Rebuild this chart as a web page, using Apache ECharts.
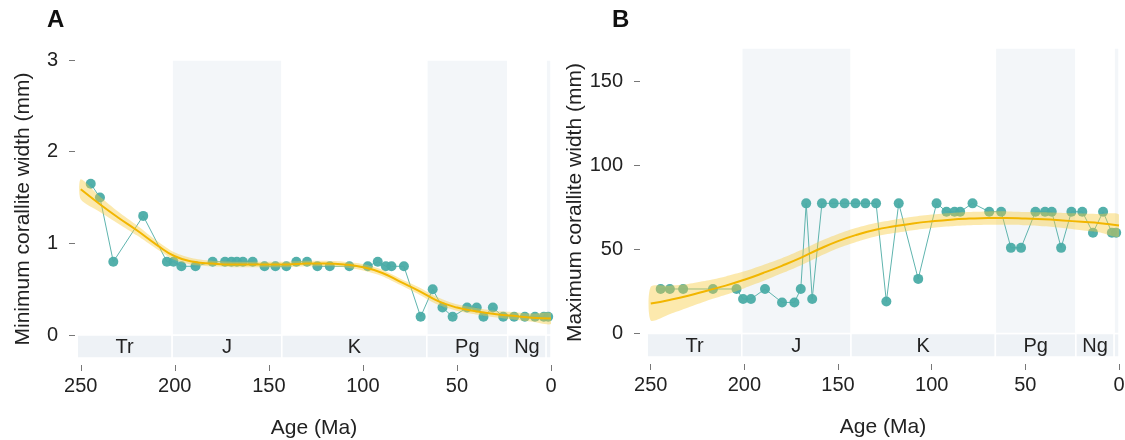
<!DOCTYPE html>
<html><head><meta charset="utf-8">
<script src="https://cdn.jsdelivr.net/npm/echarts@6/dist/echarts.min.js"></script>
<style>html,body{margin:0;padding:0;background:#fff}#c{width:1125px;height:440px}</style>
</head><body><div id="c"></div>
<script>
// ---- data ----
const ages = [244.7,239.8,232.7,216.8,204.2,200.7,196.5,189,179.9,173.3,169.9,167,163.8,158.6,152.3,146.5,140.7,135.4,129.7,124.2,117.6,107.2,97.4,92.1,87.8,84.8,78.2,69.3,62.9,57.7,52.3,44.6,39.5,35.9,30.9,25.4,19.6,13.9,8.5,3.8,1.5];
const minWidth = [1.65,1.5,0.8,1.3,0.8,0.8,0.75,0.75,0.8,0.8,0.8,0.8,0.8,0.8,0.75,0.75,0.75,0.8,0.8,0.75,0.75,0.75,0.75,0.8,0.75,0.75,0.75,0.2,0.5,0.3,0.2,0.3,0.3,0.2,0.3,0.2,0.2,0.2,0.2,0.2,0.2];
const maxWidth = [26.5,26.5,26.5,26.5,26.5,20.5,20.5,26.5,18.5,18.5,26.5,77.5,20.5,77.5,77.5,77.5,77.5,77.5,77.5,19,77.5,32.5,77.5,72.5,72.5,72.5,77.5,72.5,72.5,51,51,72.5,72.5,72.5,51,72.5,72.5,60,72.5,60,60];

const fitAges = [250,240,230,220,210,200,190,180,170,160,150,140,130,120,110,100,90,80,70,60,50,40,30,20,10,0];
const minFit = [1.59,1.43,1.28,1.14,0.99,0.86,0.80,0.78,0.77,0.77,0.77,0.77,0.78,0.78,0.77,0.74,0.68,0.58,0.48,0.37,0.30,0.26,0.23,0.21,0.19,0.18];
const minLo  = [1.48,1.345,1.215,1.085,0.945,0.82,0.765,0.75,0.74,0.74,0.74,0.74,0.75,0.75,0.74,0.705,0.645,0.545,0.44,0.33,0.265,0.225,0.195,0.17,0.145,0.12];
const minHi  = [1.70,1.515,1.345,1.195,1.035,0.90,0.835,0.81,0.80,0.80,0.80,0.80,0.81,0.81,0.80,0.775,0.715,0.615,0.52,0.41,0.335,0.295,0.265,0.25,0.235,0.24];
const maxFit = [17.8,20,22.5,25.5,28.5,32,36,40.3,45,50.3,55,58.8,61.8,63.8,65.5,66.8,67.8,68.4,68.7,68.7,68.4,68,67.3,66.5,65.7,64.3];
const maxLo  = [7.8,11.5,15.5,19.5,23,27,31.2,35.8,40.5,45.8,50.7,54.6,57.8,59.8,61.5,62.8,63.8,64.4,64.7,64.7,64.4,63.8,62.8,61.5,60.2,57.8];
const maxHi  = [27.8,28.5,29.5,31.5,34,37,40.8,44.8,49.5,54.8,59.3,63,65.8,67.8,69.5,70.8,71.8,72.4,72.7,72.7,72.4,72.2,71.8,71.5,71.2,70.8];

const periodNames = ['Tr','J','K','Pg','Ng',''];
const periodStart = [251.9,201.4,143.1,66,23.03,2.58];
const periodEnd   = [201.4,143.1,66,23.03,2.58,0];
const shadedIdx = [1,3,5];

const ageTicks = [0,50,100,150,200,250];
const minTicks = [0,1,2,3];
const maxTicks = [0,50,100,150];

// ---- styling ----
const FONT = 'Liberation Sans, Arial, Helvetica, sans-serif';
const TEAL = '#4aaca6';
const GOLD = '#f2b600';
const BAND = 'rgba(248,202,60,0.42)';
const SHADE = '#f3f6f9';
const STRIP = '#eef2f6';
const TICK = '#777';

function xAxisDef(gi){
  return {type:'value', gridIndex:gi, inverse:true, min:0, max:252, offset:7,
    name:'Age (Ma)', nameLocation:'middle', nameGap:53,
    nameTextStyle:{fontSize:21, color:'#222', fontFamily:FONT},
    axisLine:{show:true, onZero:false, lineStyle:{color:'rgba(0,0,0,0)'}}, splitLine:{show:false},
    axisTick:{show:true, length:6, customValues:ageTicks, lineStyle:{color:TICK, width:1}},
    axisLabel:{customValues:ageTicks, fontSize:20, color:'#222', margin:11, fontFamily:FONT}};
}
function yAxisDef(gi, mn, mx, ticks, name, off, gap){
  return {type:'value', gridIndex:gi, min:mn, max:mx, offset:off,
    name:name, nameLocation:'middle', nameGap:gap,
    nameTextStyle:{fontSize:21, color:'#222', fontFamily:FONT},
    axisLine:{show:true, onZero:false, lineStyle:{color:'rgba(0,0,0,0)'}}, splitLine:{show:false},
    axisTick:{show:true, length:6, customValues:ticks, lineStyle:{color:TICK, width:1}},
    axisLabel:{customValues:ticks, fontSize:20, color:'#222', margin:17, fontFamily:FONT}};
}
function periodSeries(gi, mn, mx){
  const strip = periodNames.map((n,i)=>[
    {name:n, xAxis:periodStart[i], yAxis:mn},
    {xAxis:periodEnd[i], yAxis:0}]);
  const bands = shadedIdx.map(i=>[
    {name:'', xAxis:periodStart[i], yAxis:0, itemStyle:{color:SHADE}, label:{show:false}},
    {xAxis:periodEnd[i], yAxis:mx}]);
  return {type:'line', xAxisIndex:gi, yAxisIndex:gi, data:[], z:0, silent:true,
    markArea:{silent:true,
      itemStyle:{color:STRIP, borderColor:'#ffffff', borderWidth:1.5},
      label:{show:true, position:'inside', fontSize:20, color:'#222', fontFamily:FONT, offset:[0,1]},
      data: strip.concat(bands)}};
}
function pointSeries(gi, vals){
  return {type:'line', xAxisIndex:gi, yAxisIndex:gi, z:2,
    data: ages.map((a,i)=>[a, vals[i]]),
    symbol:'circle', symbolSize:10, showSymbol:true,
    lineStyle:{color:'#5fb4ae', width:1},
    itemStyle:{color:TEAL, opacity:0.95}};
}
function bandSeries(gi, lo, hi){
  return {type:'custom', xAxisIndex:gi, yAxisIndex:gi, z:3, silent:true, clip:true,
    data:[[0,0]],
    renderItem:(params, api)=>{
      const pts=[];
      for(let i=0;i<fitAges.length;i++) pts.push(api.coord([fitAges[i], hi[i]]));
      for(let i=fitAges.length-1;i>=0;i--) pts.push(api.coord([fitAges[i], lo[i]]));
      return {type:'polygon', shape:{points:pts, smooth:0.25}, style:{fill:BAND, stroke:null}};
    }};
}
function fitSeries(gi, vals){
  return {type:'line', xAxisIndex:gi, yAxisIndex:gi, z:4, smooth:true, showSymbol:false,
    data: fitAges.map((a,i)=>[a, vals[i]]),
    lineStyle:{color:GOLD, width:2}};
}

const chart = echarts.init(document.getElementById('c'), null, {renderer:'canvas'});
chart.setOption({
  animation:false,
  textStyle:{fontFamily:FONT},
  title:[
    {text:'A', left:42, top:3, textStyle:{fontSize:24, fontWeight:'bold', color:'#111', fontFamily:FONT}},
    {text:'B', left:607, top:3, textStyle:{fontSize:24, fontWeight:'bold', color:'#111', fontFamily:FONT}}
  ],
  grid:[
    {left:77, top:60, width:474, height:298, outerBoundsMode:'none', containLabel:false},
    {left:647, top:48, width:472, height:309, outerBoundsMode:'none', containLabel:false}
  ],
  xAxis:[xAxisDef(0), xAxisDef(1)],
  yAxis:[
    yAxisDef(0, -0.25, 3, minTicks, 'Minimum corallite width (mm)', 2, 41),
    yAxisDef(1, -14, 170, maxTicks, 'Maximum corallite width (mm)', 7, 53)
  ],
  series:[
    periodSeries(0, -0.25, 3),
    periodSeries(1, -14, 170),
    pointSeries(0, minWidth),
    pointSeries(1, maxWidth),
    bandSeries(0, minLo, minHi),
    bandSeries(1, maxLo, maxHi),
    fitSeries(0, minFit),
    fitSeries(1, maxFit)
  ]
});
</script></body></html>
